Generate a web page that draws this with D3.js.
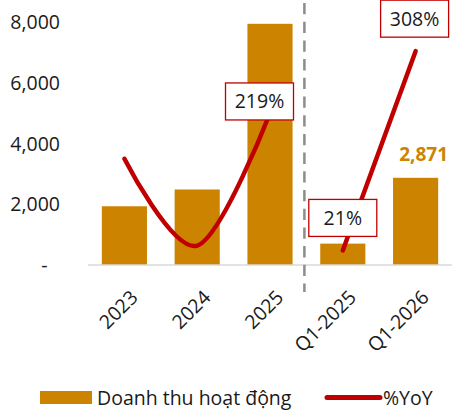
<!DOCTYPE html>
<html>
<head>
<meta charset="utf-8">
<script src="https://cdn.jsdelivr.net/npm/d3@7/dist/d3.min.js"></script>
<style>
  html, body { margin: 0; padding: 0; background: #fff; }
  svg text { font-family: "Open Sans", "Noto Sans", sans-serif; fill: #1a1a1a; }
</style>
</head>
<body>
<svg id="chart" width="452" height="410"></svg>
<script>
// Revenue by period (bars) and year-over-year growth (line)
const categories = ["2023", "2024", "2025", "Q1-2025", "Q1-2026"];
const revenue = [1934, 2486, 7940, 704, 2871];
const yoy = [153, 28, 219, 21, 308];
// growth line is split into the annual run and the quarterly run
const yoyGroups = [["2023", "2024", "2025"], ["Q1-2025", "Q1-2026"]];
// periods whose growth value gets a boxed label, and the revenue value printed above a bar
const yoyLabelled = ["2025", "Q1-2025", "Q1-2026"];
const revenueLabelled = ["Q1-2026"];
const yTicks = [0, 2000, 4000, 6000, 8000];
const legendNames = ["Doanh thu hoạt động", "%YoY"];

const BAR = "#CC8400", LINE = "#C00000";
const svg = d3.select("#chart");
const margin = { left: 88, right: 0, top: 22, bottom: 145 };
const W = 452, H = 410;

const x = d3.scaleBand().domain(categories)
  .range([margin.left, W - margin.right]).paddingInner(0.38).paddingOuter(0.19);
const y = d3.scaleLinear().domain([0, 8000]).range([H - margin.bottom, margin.top]);
// secondary (hidden) axis for growth in percent
const y2 = d3.scaleLinear().domain([0, 350]).range(y.range());

const rows = categories.map((c, i) => ({ c, rev: revenue[i], g: yoy[i] }));
const byCat = new Map(rows.map(d => [d.c, d]));

// value axis
const yAxis = d3.axisLeft(y).tickValues(yTicks).tickSize(0).tickPadding(0)
  .tickFormat(d => d === 0 ? "-" : d3.format(",")(d));
const gy = svg.append("g").attr("transform", `translate(60,0)`).call(yAxis);
gy.select(".domain").remove();
gy.selectAll("text").style("font-size", "19.5px").attr("fill", "#1a1a1a")
  .attr("dy", "0.34em");
gy.selectAll(".tick").filter(d => d === 0).select("text")
  .attr("text-anchor", "middle").attr("x", -15.5);

// bars
svg.append("g").selectAll("rect").data(rows).join("rect")
  .attr("x", d => x(d.c)).attr("width", x.bandwidth())
  .attr("y", d => y(d.rev)).attr("height", d => y(0) - y(d.rev))
  .attr("fill", BAR);

// baseline
svg.append("line").attr("x1", margin.left).attr("x2", W)
  .attr("y1", y(0)).attr("y2", y(0))
  .attr("stroke", "#d9d9d9").attr("stroke-width", 1.5);

// divider between annual and quarterly periods
const divX = x("Q1-2025") - x.step() * x.paddingInner() / 2 - 2;
svg.append("line").attr("x1", divX).attr("x2", divX)
  .attr("y1", 3).attr("y2", 292)
  .attr("stroke", "#8c8c8c").attr("stroke-width", 2.5)
  .attr("stroke-dasharray", "11.3,7.4");

// category axis labels
const cx = c => x(c) + x.bandwidth() / 2;
svg.append("g").selectAll("text").data(categories).join("text")
  .attr("transform", c => `translate(${cx(c) + 5},${y(0) + 24}) rotate(-45)`)
  .attr("text-anchor", "end").attr("dy", "0.7em")
  .style("font-size", "19.5px").text(c => c);

// growth line
const line = d3.line().x(d => cx(d.c)).y(d => y2(d.g)).curve(d3.curveCardinal.tension(0));
svg.append("g").selectAll("path").data(yoyGroups.map(g => g.map(c => byCat.get(c))))
  .join("path").attr("d", line)
  .attr("fill", "none").attr("stroke", LINE).attr("stroke-width", 4.5)
  .attr("stroke-linecap", "round");

// boxed growth labels
const labelShift = { "2025": [-10.5, -11.5], "Q1-2025": [0, -32.5], "Q1-2026": [-1, -32.5] };
const lab = svg.append("g").selectAll("g").data(yoyLabelled.map(c => byCat.get(c))).join("g")
  .attr("transform", d => `translate(${cx(d.c) + labelShift[d.c][0]},${y2(d.g) + labelShift[d.c][1]})`);
lab.append("rect").attr("x", -34).attr("y", -18.5).attr("width", 68).attr("height", 37)
  .attr("fill", "#fff").attr("stroke", LINE).attr("stroke-width", 1.3);
lab.append("text").attr("text-anchor", "middle").attr("dy", "0.36em")
  .style("font-size", "19.5px").text(d => d.g + "%");

// revenue label
svg.append("g").selectAll("text").data(revenueLabelled.map(c => byCat.get(c))).join("text")
  .attr("x", d => cx(d.c) + 8).attr("y", d => y(d.rev) - 17)
  .attr("text-anchor", "middle").style("font-size", "19px").style("font-weight", "bold")
  .style("fill", BAR).text(d => d3.format(",")(d.rev));

// legend
const lg = svg.append("g");
lg.append("rect").attr("x", 40).attr("y", 391).attr("width", 52).attr("height", 13).attr("fill", BAR);
lg.append("text").attr("x", 97).attr("y", 405).style("font-size", "19.5px").text(legendNames[0]);
lg.append("line").attr("x1", 327).attr("x2", 380).attr("y1", 397.5).attr("y2", 397.5)
  .attr("stroke", LINE).attr("stroke-width", 5).attr("stroke-linecap", "round");
lg.append("text").attr("x", 383).attr("y", 405).style("font-size", "19.5px").text(legendNames[1]);
</script>
</body>
</html>
